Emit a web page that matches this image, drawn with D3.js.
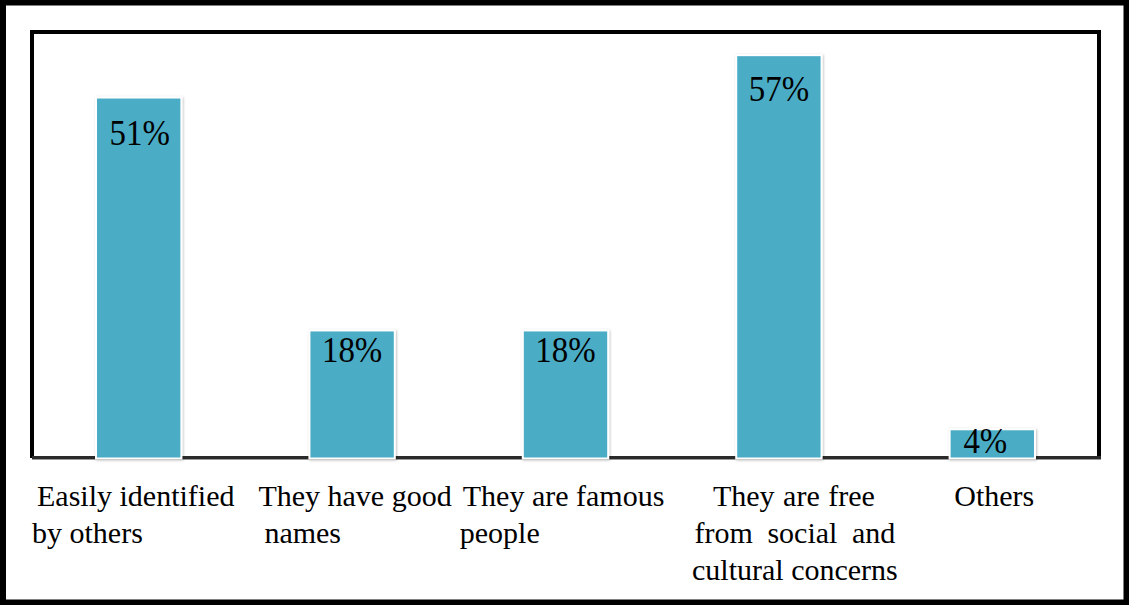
<!DOCTYPE html>
<html>
<head>
<meta charset="utf-8">
<script src="https://cdn.jsdelivr.net/npm/d3@7"></script>
<style>
  html, body { margin: 0; padding: 0; background: #fff; }
  svg { display: block; }
  text { font-family: "Liberation Serif", "Times New Roman", serif; fill: #000; }
</style>
</head>
<body>
<svg id="chart" width="1129" height="605"></svg>
<script>
// Reasons given, share of respondents (%)
const categories = [
  "Easily identified by others",
  "They have good names",
  "They are famous people",
  "They are free from social and cultural concerns",
  "Others"
];
const values = [51, 18, 18, 57, 4];
const valueLabels = ["51%", "18%", "18%", "57%", "4%"];
// Wrapped lines of each category label
const categoryLines = [
  ["Easily identified", "by others"],
  ["They have good", "names"],
  ["They are famous", "people"],
  ["They are free", "from social and", "cultural concerns"],
  ["Others"]
];

const W = 1129, H = 605;
const plot = { left: 32, right: 1099, top: 32, bottom: 458 };
const svg = d3.select("#chart");

const x = d3.scaleBand()
  .domain(categories)
  .range([plot.left, plot.right])
  .paddingInner(0.6)
  .paddingOuter(0.3);

const y = d3.scaleLinear()
  .domain([0, 60])
  .range([plot.bottom - 0.5, 34]);

// soft grey halo around each bar
const defs = svg.append("defs");
const f = defs.append("filter").attr("id", "halo")
  .attr("x", "-20%").attr("y", "-20%").attr("width", "140%").attr("height", "140%");
f.append("feDropShadow")
  .attr("dx", 0.8).attr("dy", 0.8).attr("stdDeviation", 1.2)
  .attr("flood-color", "#000").attr("flood-opacity", 0.28);

// outer frame
svg.append("rect")
  .attr("x", 3).attr("y", 2.5)
  .attr("width", W - 5.5).attr("height", H - 5)
  .attr("fill", "#fff").attr("stroke", "#000").attr("stroke-width", 6);

// plot frame (left, top, right)
svg.append("path")
  .attr("d", `M${plot.left},${plot.bottom} V${plot.top} H${plot.right} V${plot.bottom}`)
  .attr("fill", "none").attr("stroke", "#000").attr("stroke-width", 4);

// category axis line
svg.append("line")
  .attr("x1", plot.left).attr("x2", plot.right + 2)
  .attr("y1", plot.bottom + 1.5).attr("y2", plot.bottom + 1.5)
  .attr("stroke", "#9a9a9a").attr("stroke-width", 1);
svg.append("line")
  .attr("x1", plot.left).attr("x2", plot.right + 2)
  .attr("y1", plot.bottom - 0.5).attr("y2", plot.bottom - 0.5)
  .attr("stroke", "#2a2a2a").attr("stroke-width", 3);

// bars
svg.append("g").selectAll("rect")
  .data(values)
  .join("rect")
  .attr("x", (d, i) => x(categories[i]))
  .attr("y", d => y(d))
  .attr("width", x.bandwidth())
  .attr("height", d => y(0) - y(d) + 1)
  .attr("fill", "#4BACC6")
  .attr("stroke", "#fff")
  .attr("stroke-width", 2)
  .attr("filter", "url(#halo)");

// value labels, placed inside the top of each bar
const labelDrop = [47, 32, 32, 46, 24];
const labelShift = [1, 0, 0, 0, -7];
svg.append("g").selectAll("text")
  .data(values)
  .join("text")
  .attr("transform", (d, i) => {
    const cx = x(categories[i]) + x.bandwidth() / 2 + labelShift[i];
    return `translate(${cx},${y(d) + labelDrop[i]}) scale(0.94,1)`;
  })
  .attr("text-anchor", "middle")
  .style("font-size", "35px")
  .text((d, i) => valueLabels[i]);

// category labels
const lineStep = 37, firstBaseline = 506;
// per-line placement: [anchor, offset from band start or band centre]
const lineLayout = [
  [["start", 5], ["start", 0]],
  [["start", 13], ["start", 19]],
  [["start", 4], ["start", 1]],
  [["middle", 15, 1], ["middle", 16, 7], ["middle", 16, 0]],
  [["middle", 2]]
];
const labelG = svg.append("g").style("font-size", "30px");
categoryLines.forEach((lines, i) => {
  const x0 = x(categories[i]) - x.step() * x.paddingInner() / 2;
  const cx = x(categories[i]) + x.bandwidth() / 2;
  lines.forEach((ln, j) => {
    const [anchor, off, ws] = lineLayout[i][j];
    labelG.append("text")
      .attr("x", anchor === "start" ? Math.max(plot.left, x0) + off : cx + off)
      .attr("y", firstBaseline + j * lineStep)
      .attr("text-anchor", anchor)
      .style("word-spacing", (ws || 0) + "px")
      .text(ln);
  });
});
</script>
</body>
</html>
